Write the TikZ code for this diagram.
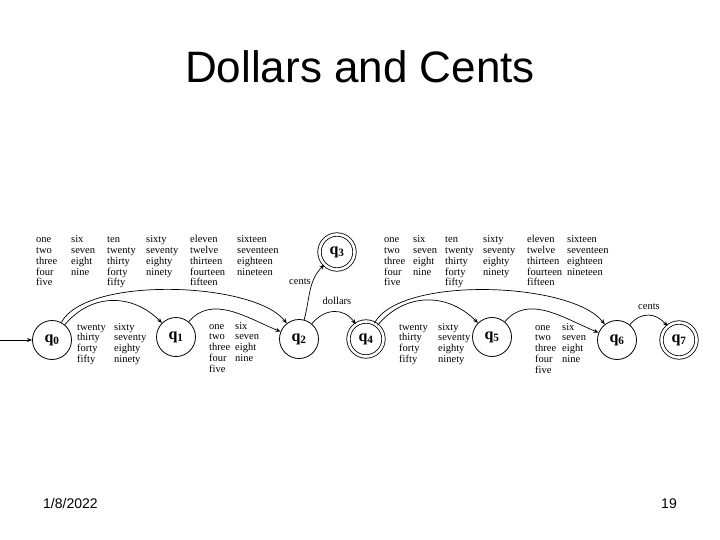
\documentclass[tikz,border=0pt]{standalone}
\usepackage{fontspec}
\setmainfont{Liberation Serif}
\newfontfamily\arialf{Liberation Sans}
\usetikzlibrary{arrows.meta}
\newcommand\ql[1]{\textbf{q}\textsubscript{\textbf{#1}}}
\newcommand\wcol[1]{\begin{tabular}[t]{@{}l@{}}#1\end{tabular}}
\begin{document}
\begin{tikzpicture}[x=1pt,y=-1pt,
  st/.style={circle,draw,line width=0.8pt,minimum size=39pt,inner sep=0pt,font=\fontsize{16}{16}\selectfont},
  acc/.style={st,double,double distance=2.6pt,minimum size=35pt},
  lab/.style={anchor=base west,inner sep=0pt,font=\fontsize{10.5}{10.75}\selectfont},
  tr/.style={-{Stealth[length=5pt,width=4pt]},line width=0.7pt},
  el/.style={inner sep=0pt,font=\fontsize{10.5}{10.8}\selectfont},
]
\useasboundingbox (0,0) rectangle (720,540);
\node[font=\arialf\fontsize{44}{44}\selectfont,anchor=base,inner sep=0pt] (title) at (360,83) {Dollars and Cents};
\node[font=\arialf\fontsize{14}{14}\selectfont,anchor=base west,inner sep=0pt] (date) at (43,508) {1/8/2022};
\node[font=\arialf\fontsize{14}{14}\selectfont,anchor=base east,inner sep=0pt] (pg) at (677,508) {19};

% states
\node[st] (q0) at (52,340) {\ql{0}};
\node[st] (q1) at (176,337) {\ql{1}};
\node[st] (q2) at (299,339) {\ql{2}};
\node[acc] (q3) at (337,252) {\ql{3}};
\node[acc] (q4) at (366,339) {\ql{4}};
\node[st] (q5) at (492,337) {\ql{5}};
\node[st] (q6) at (617,340) {\ql{6}};
\node[acc] (q7) at (679,340) {\ql{7}};

% top labels, group 1
\node[lab] (a1) at (36,243) {\wcol{one\\two\\three\\four\\five}};
\node[lab] (a2) at (71,243) {\wcol{six\\seven\\eight\\nine}};
\node[lab] (a3) at (107,243) {\wcol{ten\\twenty\\thirty\\forty\\fifty}};
\node[lab] (a4) at (146,243) {\wcol{sixty\\seventy\\eighty\\ninety}};
\node[lab] (a5) at (190,243) {\wcol{eleven\\twelve\\thirteen\\fourteen\\fifteen}};
\node[lab] (a6) at (237,243) {\wcol{sixteen\\seventeen\\eighteen\\nineteen}};
% lower labels q0-q1, q1-q2
\node[lab] (b1) at (77,330) {\wcol{twenty\\thirty\\forty\\fifty}};
\node[lab] (b2) at (114,330) {\wcol{sixty\\seventy\\eighty\\ninety}};
\node[lab] (c1) at (209,329) {\wcol{one\\two\\three\\four\\five}};
\node[lab] (c2) at (235,329) {\wcol{six\\seven\\eight\\nine}};
% top labels, group 2
\node[lab] (d1) at (384,243) {\wcol{one\\two\\three\\four\\five}};
\node[lab] (d2) at (413,243) {\wcol{six\\seven\\eight\\nine}};
\node[lab] (d3) at (445,243) {\wcol{ten\\twenty\\thirty\\forty\\fifty}};
\node[lab] (d4) at (483,243) {\wcol{sixty\\seventy\\eighty\\ninety}};
\node[lab] (d5) at (527,243) {\wcol{eleven\\twelve\\thirteen\\fourteen\\fifteen}};
\node[lab] (d6) at (567,243) {\wcol{sixteen\\seventeen\\eighteen\\nineteen}};
% lower labels q4-q5, q5-q6
\node[lab] (e1) at (399,330) {\wcol{twenty\\thirty\\forty\\fifty}};
\node[lab] (e2) at (438,330) {\wcol{sixty\\seventy\\eighty\\ninety}};
\node[lab] (f1) at (535,330) {\wcol{one\\two\\three\\four\\five}};
\node[lab] (f2) at (562,330) {\wcol{six\\seven\\eight\\nine}};

% edges
\coordinate (s) at (0,340);
\draw[tr] (s) -- (q0);
\draw[tr] (q0) to[out=50,in=135,looseness=1.1] (q1);
\draw[tr] (q0) to[out=62,in=128,looseness=0.6] (q2);
\draw[tr] (q1) to[out=50,in=158] (q2);
\draw[tr] (q2) to[out=75,in=-135] (q3);
\node[el,anchor=east] (cn) at (311,282) {cents};
\draw[tr] (q2) to[out=50,in=125,looseness=1.2] (q4);
\node[el] (dl) at (337,301) {dollars};
\draw[tr] (q4) to[out=50,in=135,looseness=1.1] (q5);
\draw[tr] (q4) to[out=62,in=128,looseness=0.6] (q6);
\draw[tr] (q5) to[out=50,in=158] (q6);
\draw[tr] (q6) to[out=50,in=130,looseness=1.2] (q7);
\node[el] (ct) at (649,307) {cents};
\end{tikzpicture}
\end{document}
